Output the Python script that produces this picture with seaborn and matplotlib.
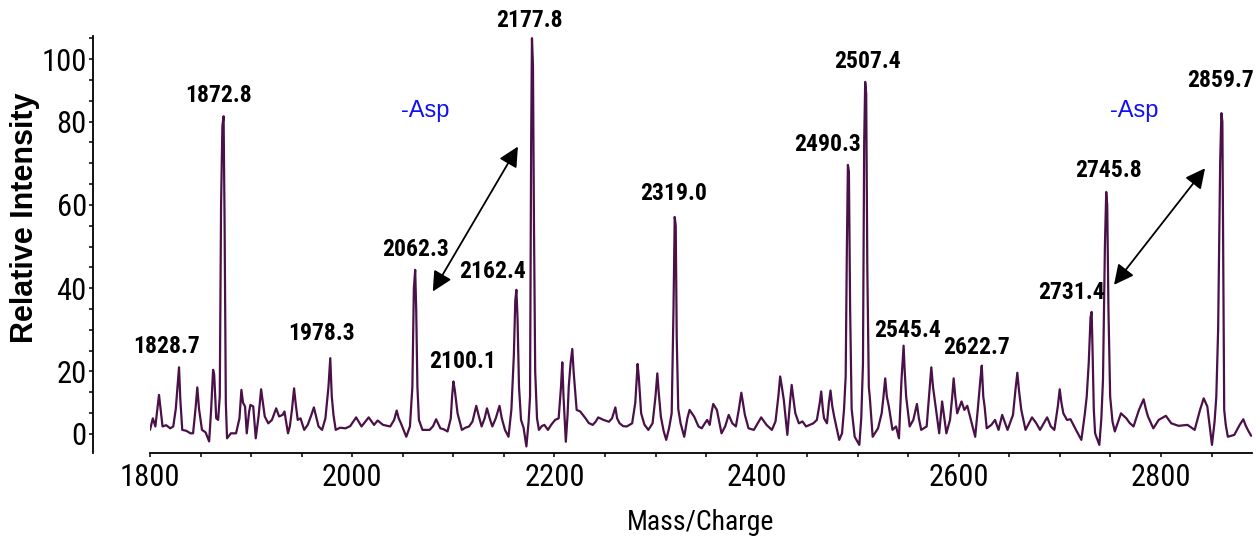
import numpy as np
import pandas as pd
import matplotlib
matplotlib.use("Agg")
import matplotlib.pyplot as plt
from matplotlib import font_manager
import seaborn as sns

# Continuous spectrum trace (m/z, relative intensity), excluding the labelled maxima
trace_mz = [
    1800.0, 1802.8, 1805.3, 1808.9, 1812.4, 1816.0, 1820.0, 1823.0, 1825.5, 1830.0,
    1831.9, 1836.0, 1840.0, 1842.6, 1845.0, 1846.8, 1848.5, 1851.4, 1855.0, 1858.5,
    1860.5, 1862.4, 1863.5, 1865.5, 1867.4, 1869.0, 1870.3, 1871.6, 1873.8, 1875.0,
    1876.2, 1880.0, 1885.1, 1888.5, 1890.4, 1892.0, 1894.0, 1895.7, 1898.0, 1899.3,
    1902.1, 1904.6, 1907.5, 1909.9, 1913.5, 1917.0, 1920.6, 1924.8, 1927.7, 1931.2,
    1933.0, 1936.5, 1938.3, 1940.5, 1942.5, 1944.0, 1946.1, 1948.9, 1952.5, 1956.0,
    1959.5, 1962.1, 1964.0, 1966.7, 1970.2, 1973.5, 1976.5, 1979.8, 1981.5, 1983.7,
    1988.0, 1993.3, 1998.0, 2003.9, 2009.2, 2016.3, 2021.6, 2025.2, 2030.5, 2037.6,
    2041.5, 2044.0, 2046.0, 2048.2, 2053.5, 2057.1, 2059.5, 2061.0, 2063.3, 2064.5,
    2066.0, 2069.5, 2073.0, 2076.6, 2080.0, 2083.0, 2087.2, 2090.5, 2094.3, 2097.5,
    2098.8, 2101.5, 2104.2, 2108.5, 2112.0, 2115.6, 2119.0, 2122.7, 2125.0, 2128.0,
    2131.0, 2133.3, 2136.0, 2138.6, 2142.0, 2145.7, 2148.0, 2151.1, 2154.6, 2157.5,
    2159.9, 2161.3, 2163.5, 2165.0, 2167.0, 2169.5, 2172.3, 2174.5, 2175.9, 2177.0,
    2178.8, 2179.8, 2181.0, 2182.8, 2184.7, 2187.5, 2190.1, 2193.6, 2197.0, 2200.7,
    2204.2, 2206.5, 2207.8, 2209.0, 2211.3, 2213.0, 2214.2, 2216.0, 2217.7, 2219.0,
    2222.0, 2225.5, 2230.8, 2234.0, 2237.9, 2241.0, 2243.3, 2248.6, 2253.9, 2257.0,
    2260.3, 2262.0, 2264.5, 2268.0, 2271.6, 2276.9, 2280.0, 2282.3, 2283.5, 2285.8,
    2289.0, 2292.9, 2297.1, 2300.0, 2301.8, 2303.0, 2305.3, 2308.0, 2310.6, 2313.5,
    2316.0, 2317.8, 2320.0, 2321.0, 2322.5, 2324.8, 2328.4, 2331.5, 2333.7, 2338.3,
    2342.5, 2345.7, 2349.0, 2351.1, 2353.6, 2355.5, 2357.1, 2360.7, 2365.3, 2368.9,
    2372.4, 2376.0, 2379.5, 2382.5, 2384.9, 2386.5, 2388.4, 2392.0, 2397.3, 2404.5,
    2409.8, 2415.1, 2418.7, 2421.5, 2423.3, 2425.0, 2426.9, 2430.4, 2433.0, 2434.7,
    2436.5, 2438.3, 2441.8, 2445.4, 2448.9, 2456.1, 2459.6, 2462.5, 2463.9, 2465.5,
    2466.7, 2469.6, 2471.5, 2473.1, 2474.8, 2476.7, 2481.7, 2484.5, 2486.5, 2488.1,
    2489.3, 2491.3, 2492.5, 2494.0, 2497.0, 2501.6, 2503.5, 2505.2, 2506.4, 2508.4,
    2509.5, 2511.0, 2511.9, 2514.8, 2520.1, 2523.7, 2525.5, 2527.2, 2528.8, 2530.8,
    2534.4, 2537.9, 2540.8, 2543.3, 2546.5, 2547.9, 2551.4, 2555.0, 2558.6, 2560.5,
    2562.8, 2568.2, 2570.5, 2572.8, 2574.5, 2577.1, 2580.6, 2583.5, 2587.7, 2591.3,
    2593.5, 2594.9, 2596.5, 2598.4, 2602.7, 2605.5, 2608.4, 2611.9, 2616.2, 2618.8,
    2621.5, 2624.2, 2625.5, 2627.6, 2632.2, 2635.8, 2639.3, 2642.9, 2648.2, 2653.6,
    2656.0, 2657.9, 2659.5, 2661.8, 2666.0, 2672.4, 2676.7, 2680.3, 2687.4, 2691.0,
    2694.5, 2698.0, 2699.8, 2701.5, 2703.4, 2707.0, 2710.5, 2715.9, 2721.2, 2724.5,
    2726.5, 2728.5, 2730.3, 2732.3, 2733.5, 2734.8, 2739.0, 2741.0, 2742.6, 2744.5,
    2746.8, 2748.0, 2749.7, 2752.0, 2754.3, 2760.4, 2765.7, 2769.0, 2772.8, 2778.2,
    2782.8, 2785.0, 2787.1, 2792.4, 2797.7, 2804.8, 2810.2, 2817.3, 2826.2, 2833.3,
    2838.6, 2842.2, 2845.8, 2850.4, 2853.0, 2854.7, 2856.5, 2858.5, 2860.7, 2861.6,
    2862.5, 2864.0, 2866.1, 2872.5, 2877.8, 2881.4, 2884.0, 2886.7, 2889.2,
]
trace_int = [
    1.3, 5.0, 2.4, 12.5, 2.4, 2.8, 1.8, 2.4, 8.0, 11.0,
    1.3, 1.0, 0.2, 0.2, 8.0, 14.9, 8.0, 1.3, 0.5, -2.4,
    8.0, 20.4, 19.0, 5.0, 4.5, 12.0, 60.0, 79.0, 55.0, 10.0,
    -1.4, 0.2, 0.2, 5.0, 14.1, 10.0, 8.8, 0.2, 7.0, 9.3,
    8.8, -1.4, 6.0, 14.3, 5.6, 3.4, 4.5, 8.2, 5.6, 6.1,
    7.2, 0.2, 2.4, 8.0, 14.6, 10.0, 4.5, 5.0, 1.3, 2.9,
    6.0, 8.5, 6.0, 2.4, 1.3, 5.0, 15.0, 12.0, 6.0, 1.3,
    2.0, 1.8, 2.5, 5.3, 2.4, 5.3, 2.9, 4.3, 2.9, 2.4,
    4.5, 7.5, 5.0, 3.4, -0.9, 2.4, 15.0, 40.0, 35.0, 15.0,
    4.5, 1.3, 1.3, 1.3, 2.5, 4.7, 1.8, 1.5, 0.8, 5.0,
    12.0, 14.0, 6.6, 1.3, 2.0, 2.4, 4.0, 9.0, 6.0, 2.4,
    5.0, 8.2, 5.0, 2.4, 5.0, 9.0, 5.0, 1.3, -0.9, 8.0,
    24.0, 37.0, 33.0, 15.0, 4.5, 2.0, -4.0, 4.0, 12.0, 75.0,
    98.0, 55.0, 20.0, 5.0, 1.3, 2.5, 2.9, 1.3, 3.0, 4.5,
    5.0, 15.0, 22.2, 12.0, -2.5, 6.0, 15.2, 22.0, 25.4, 20.0,
    7.7, 7.2, 5.0, 3.5, 2.9, 4.0, 5.3, 4.5, 3.9, 5.0,
    8.5, 5.0, 3.4, 2.5, 2.4, 3.4, 10.0, 21.8, 18.0, 6.6,
    3.0, 1.3, 3.4, 12.0, 19.4, 14.0, 5.5, 1.0, -1.9, 2.0,
    6.6, 35.0, 55.0, 28.0, 8.0, 3.4, -0.9, 5.0, 7.7, 5.5,
    2.4, 1.8, 3.5, 4.5, 2.9, 7.0, 9.6, 7.7, 0.2, 2.4,
    6.1, 3.4, 2.4, 8.0, 13.2, 10.0, 6.1, 1.8, 1.3, 5.3,
    2.9, 1.3, 4.0, 12.0, 18.4, 15.0, 10.9, -0.3, 10.0, 15.7,
    11.0, 6.6, 3.4, 4.0, 2.4, 3.4, 4.5, 10.0, 13.6, 8.0,
    5.0, 3.4, 10.0, 13.9, 9.0, 5.6, -1.9, 0.2, 8.0, 18.4,
    50.0, 68.0, 35.0, 8.0, -0.9, -3.5, 5.0, 21.8, 75.0, 89.0,
    45.0, 15.0, 12.0, -0.9, 1.8, 6.6, 12.0, 17.8, 12.0, 8.8,
    1.3, 2.4, -1.4, 17.3, 20.0, 12.0, 2.4, 4.5, 9.6, 5.0,
    1.3, 2.4, 12.0, 21.0, 15.0, 8.8, 0.2, 10.4, 0.2, 4.5,
    12.0, 17.8, 12.0, 6.6, 10.4, 7.7, 9.0, 4.5, -0.9, 8.0,
    18.0, 12.0, 8.8, 1.8, 2.9, 4.5, 1.3, 6.1, 1.3, 6.1,
    14.0, 19.6, 14.0, 7.7, 1.3, 5.3, 3.4, 1.3, 5.3, 2.4,
    1.3, 9.0, 14.3, 10.0, 6.6, 4.5, 4.7, 1.3, -1.9, 6.0,
    11.9, 22.0, 33.0, 25.0, 8.0, 0.2, -3.5, 5.0, 17.3, 50.0,
    60.0, 35.0, 12.0, 4.0, 0.8, 6.6, 5.0, 3.5, 2.4, 7.7,
    11.1, 8.0, 5.6, 1.8, 4.5, 5.8, 3.4, 2.6, 2.9, 1.3,
    7.7, 11.4, 8.8, -3.5, 4.0, 12.0, 30.0, 70.0, 80.0, 45.0,
    7.7, 3.0, -0.9, -0.3, 2.9, 4.7, 2.5, 0.8, -0.6,
]

# Labelled peak maxima
peak_mz = [1828.7, 1872.8, 1978.3, 2062.3, 2100.1, 2162.4, 2177.8, 2319.0,
           2490.3, 2507.4, 2545.4, 2622.7, 2731.4, 2745.8, 2859.7]
peak_int = [21.0, 81.7, 23.2, 44.4, 16.8, 39.6, 106.7, 57.1,
            69.6, 92.7, 26.2, 21.4, 34.3, 63.1, 82.7]

# Where each peak label sits (m/z, baseline intensity)
label_mz = [1816.1, 1867.6, 1969.5, 2062.6, 2109.1, 2138.8, 2175.5, 2318.0,
            2470.4, 2510.0, 2549.6, 2617.9, 2711.0, 2747.6, 2858.5]
label_int = [24.4, 86.3, 27.6, 47.7, 20.8, 42.4, 110.3, 61.2,
             72.9, 97.1, 28.3, 24.2, 37.4, 66.7, 91.1]

# Aspartate-loss pairs: double arrows and their captions
arrow_from = [(2079.7, 39.2), (2753.5, 40.8)]
arrow_to = [(2163.9, 74.0), (2843.6, 68.8)]
asp_text = "-Asp"
asp_pos = [(2072.6, 81.5), (2773.4, 81.4)]

x_ticks = [1800, 2000, 2200, 2400, 2600, 2800]
y_ticks = [0, 20, 40, 60, 80, 100]

# The intensity axis is graduated unevenly: labels sit on tick steps 0,3,7,11,15,18
_val_knots = np.array([-100.0, 0, 20, 40, 60, 80, 100, 200])
_step_knots = np.array([-15.0, 0, 3, 7, 11, 15, 18, 33])


def to_steps(v):
    return np.interp(np.asarray(v, dtype=float), _val_knots, _step_knots)


def from_steps(s):
    return np.interp(np.asarray(s, dtype=float), _step_knots, _val_knots)


# Prefer a condensed face for the axis numbers when one is installed
_installed = {f.name for f in font_manager.fontManager.ttflist}
_narrow = [n for n in ("Liberation Sans Narrow", "Roboto Condensed", "Arial Narrow")
           if n in _installed]
narrow_family = _narrow + ["Liberation Sans", "DejaVu Sans"]
condensed = bool(_narrow)

spec = pd.DataFrame({"mz": trace_mz + peak_mz, "intensity": trace_int + peak_int})
spec = spec.sort_values("mz").reset_index(drop=True)

sns.set_theme(style="ticks")
plt.rcParams["font.family"] = ["Liberation Sans", "DejaVu Sans"]

fig = plt.figure(figsize=(12.57, 5.45), dpi=100)
ax = fig.add_axes([150 / 1257, 92 / 545, 1102 / 1257, 417 / 545])

sns.lineplot(data=spec, x="mz", y="intensity", ax=ax, color="#4a1048",
             linewidth=1.6, sort=False, estimator=None)

ax.set_yscale("function", functions=(to_steps, from_steps))
ax.set_xlim(1800, 2890)
ax.set_ylim(-6.1, 107.4)

ax.set_xticks(x_ticks)
ax.set_xticks(np.arange(1850, 2890, 50), minor=True)
ax.set_yticks(y_ticks)
ax.set_yticks([v for v in from_steps(np.arange(0, 20)) if round(v, 3) not in y_ticks],
              minor=True)
ax.set_xticklabels([str(t) for t in x_ticks])
ax.set_yticklabels([str(t) for t in y_ticks])

tick_size = 22 if condensed else 18
ax.tick_params(axis="both", which="both", direction="out", length=3, width=1.1,
               color="black", labelsize=tick_size, labelcolor="black",
               labelfontfamily=narrow_family[0])
ax.tick_params(axis="x", which="both", pad=4)
ax.tick_params(axis="y", which="both", pad=1.5)

for side in ("top", "right"):
    ax.spines[side].set_visible(False)
for side in ("left", "bottom"):
    ax.spines[side].set_color("black")
    ax.spines[side].set_linewidth(1.3)
ax.spines["left"].set_position(("outward", 41))
ax.set_xlabel("")
ax.set_ylabel("")
ax.grid(False)

# Axis titles
fig.text(701 / 1257, 1 - 530 / 545, "Mass/Charge", ha="center", va="baseline",
         fontsize=20 if condensed else 17, family=narrow_family, color="black")
fig.text(33 / 1257, 1 - 218 / 545, "Relative Intensity", rotation=90,
         rotation_mode="anchor", ha="center", va="baseline", fontsize=22,
         fontweight="bold", color="black")

# Peak labels
label_size = 17 if condensed else 15.5
for m, lx, ly in zip(peak_mz, label_mz, label_int):
    ax.text(lx, ly, f"{m:.1f}", ha="center", va="baseline", fontsize=label_size,
            fontweight="bold", family=narrow_family, color="black")

# Mass-difference arrows with their captions
for start, end in zip(arrow_from, arrow_to):
    ax.annotate("", xy=end, xytext=start,
                arrowprops=dict(arrowstyle="<|-|>,head_length=0.6,head_width=0.3",
                                mutation_scale=20, color="black", lw=1.3,
                                shrinkA=0, shrinkB=0))
for px, py in asp_pos:
    ax.text(px, py, asp_text, ha="center", va="baseline", fontsize=17,
            color="#1010f0")

fig.savefig("out.png", dpi=100)
